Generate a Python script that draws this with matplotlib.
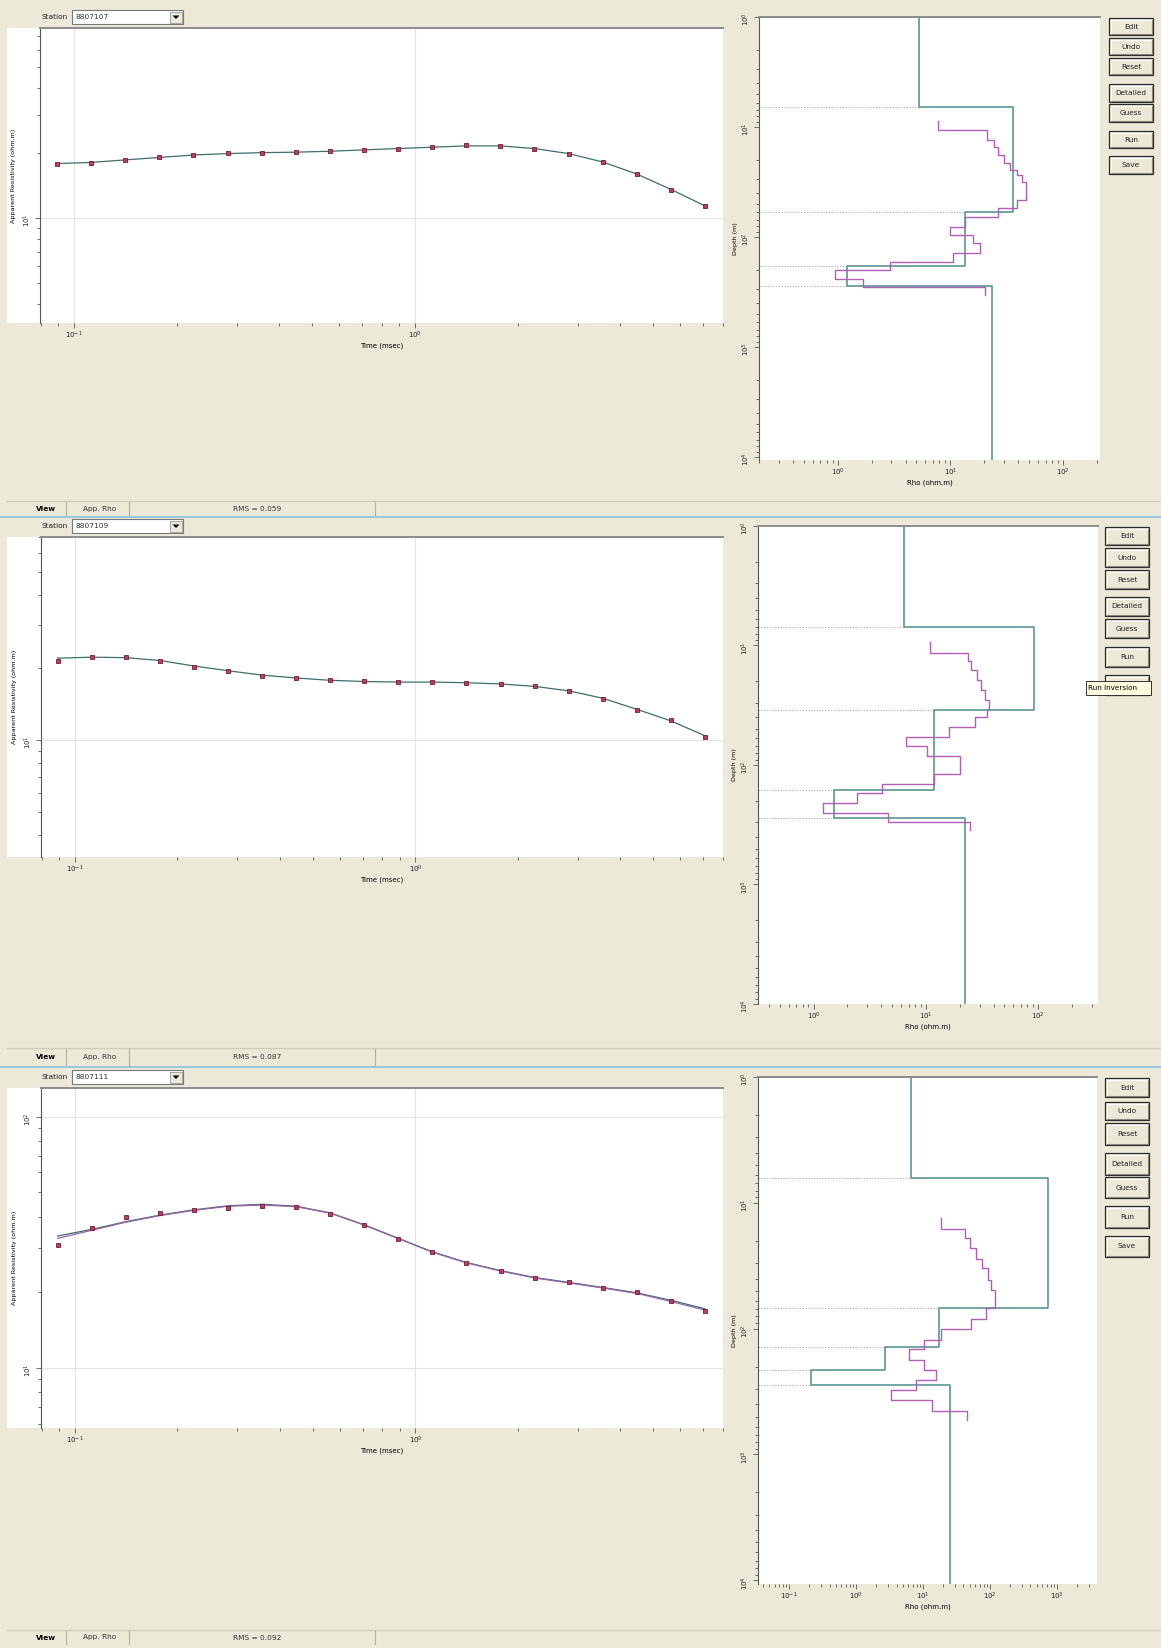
import numpy as np
import matplotlib
matplotlib.use("Agg")
import matplotlib.pyplot as plt
from matplotlib.patches import Rectangle, Polygon
from matplotlib.ticker import FixedLocator, FuncFormatter, NullFormatter

W, H = 1161, 1648
BEIGE = "#ece9d8"
TEAL = "#4d8c8c"
MAGENTA = "#b060b4"

# ---- data ----
time_ms = [0.089, 0.112, 0.141, 0.178, 0.224, 0.282, 0.355, 0.447, 0.562, 0.708,
           0.891, 1.12, 1.41, 1.78, 2.24, 2.82, 3.55, 4.47, 5.62, 7.08]

stations = ["8807107", "8807109", "8807111"]
rms_values = ["0.059", "0.087", "0.092"]

# apparent resistivity (ohm.m): observed points and model responses
rho_obs_1 = [17.8, 18.0, 18.6, 19.2, 19.6, 20.0, 20.0, 20.2, 20.4, 20.6,
             21.0, 21.4, 21.7, 21.5, 21.0, 19.9, 18.2, 16.0, 13.5, 11.4]
rho_fit_1 = [17.9, 18.1, 18.6, 19.1, 19.6, 19.9, 20.1, 20.2, 20.4, 20.7,
             21.0, 21.3, 21.6, 21.6, 21.0, 19.9, 18.2, 16.0, 13.6, 11.4]

rho_obs_2 = [21.3, 22.2, 22.1, 21.3, 20.2, 19.3, 18.5, 18.1, 17.7, 17.6,
             17.4, 17.4, 17.2, 17.1, 16.7, 16.0, 14.8, 13.3, 12.1, 10.3]
rho_fit_2 = [21.9, 22.1, 22.0, 21.4, 20.3, 19.4, 18.6, 18.1, 17.7, 17.5,
             17.4, 17.4, 17.3, 17.1, 16.7, 16.0, 14.9, 13.4, 12.0, 10.4]

rho_obs_3 = [30.9, 36.0, 39.8, 41.3, 42.4, 43.3, 43.9, 43.7, 41.1, 36.9,
             32.7, 28.9, 26.2, 24.3, 22.7, 21.9, 20.8, 20.0, 18.5, 16.9]
rho_fit_3 = [33.5, 35.6, 38.2, 40.6, 42.6, 44.2, 44.8, 44.0, 41.4, 37.1,
             32.8, 29.0, 26.3, 24.4, 22.9, 21.9, 20.9, 19.9, 18.6, 17.2]
rho_fit_3b = [32.8, 35.3, 38.0, 40.4, 42.4, 44.0, 44.5, 43.8, 41.3, 37.0,
              32.7, 28.9, 26.2, 24.3, 22.8, 21.8, 20.8, 19.8, 18.4, 17.0]

# layered model: resistivity of each layer and depth of layer bottoms (m)
layer_rho_1 = [5.25, 36, 13.5, 1.2, 23.4]
layer_bottom_1 = [6.6, 60, 184, 279]
layer_rho_2 = [6.35, 92, 11.7, 1.51, 22.4]
layer_bottom_2 = [7.05, 34.7, 162, 279]
layer_rho_3 = [6.5, 723, 17.1, 2.72, 0.21, 24.9]
layer_bottom_3 = [6.4, 69, 140, 214, 281]

# smooth (detailed) model: resistivity per step and step boundaries (m)
smooth_rho_1 = [7.8, 21, 24.4, 26.6, 29.9, 33.8, 39.3, 42.9, 46.9, 38.7,
                26.6, 13.5, 9.9, 16, 18.3, 10.6, 2.9, 0.94, 1.66, 20.3]
smooth_depth_1 = [8.8, 10.6, 13.1, 15.1, 18.0, 21.4, 24.6, 27.3, 31.4, 46.1, 54.8,
                  65.3, 80.5, 95.9, 114, 139, 168, 200, 243, 283, 337]
smooth_rho_2 = [10.8, 23.5, 25.2, 28.5, 30.9, 33.8, 36.2, 35.0, 27.5, 16.0,
                6.6, 10.2, 20.3, 11.9, 4.1, 2.41, 1.22, 4.6, 24.9]
smooth_depth_2 = [9.3, 11.5, 13.6, 16.0, 19.4, 23.6, 28.6, 34.2, 39.9, 48.4,
                  58.0, 69.3, 84.1, 119, 144, 173, 209, 251, 298, 350]
smooth_rho_3 = [18.3, 41.9, 49.8, 62.6, 76.2, 91.5, 103, 118, 88.3, 51.4,
                18.3, 10.3, 6.07, 10.3, 15.8, 7.91, 3.34, 13.7, 45.9]
smooth_depth_3 = [13.3, 16.0, 19.2, 23.0, 27.7, 33.2, 41.1, 49.4, 69.0, 84.5,
                  101, 122, 146, 178, 214, 257, 308, 370, 451, 534]

button_labels = ["Edit", "Undo", "Reset", "Detailed", "Guess", "Run", "Save"]

# ---- screen layout (pixels, origin top-left) ----
panels = [
    dict(obs=rho_obs_1, fits=[rho_fit_1], lrho=layer_rho_1, lbot=layer_bottom_1,
         srho=smooth_rho_1, sdep=smooth_depth_1,
         left=(40, 28, 723, 323), right=(759, 17, 1100, 460),
         t_ylim=(3.27, 75.9), r_xlim=(0.2, 213), r_ylim=(1.07e4, 1.0),
         btn_x=(1109, 1153),
         btn_y=[(18, 35), (38, 55), (58, 75), (84, 102), (104, 122), (131, 148), (156, 174)],
         combo_y=(10, 24), status_y=(501, 516), sep_y=517, tooltip=False),
    dict(obs=rho_obs_2, fits=[rho_fit_2], lrho=layer_rho_2, lbot=layer_bottom_2,
         srho=smooth_rho_2, sdep=smooth_depth_2,
         left=(41, 537, 723, 857), right=(758, 526, 1098, 1004),
         t_ylim=(3.25, 70.0), r_xlim=(0.32, 340), r_ylim=(1.0e4, 1.0),
         btn_x=(1105, 1149),
         btn_y=[(527, 545), (548, 567), (570, 589), (597, 616), (619, 638), (647, 667), (675, 695)],
         combo_y=(519, 533), status_y=(1048, 1066), sep_y=1067, tooltip=True),
    dict(obs=rho_obs_3, fits=[rho_fit_3, rho_fit_3b], lrho=layer_rho_3, lbot=layer_bottom_3,
         srho=smooth_rho_3, sdep=smooth_depth_3,
         left=(41, 1088, 723, 1428), right=(758, 1077, 1097, 1584),
         t_ylim=(5.77, 130.0), r_xlim=(0.034, 3960), r_ylim=(1.07e4, 1.0),
         btn_x=(1105, 1149),
         btn_y=[(1078, 1097), (1102, 1120), (1123, 1145), (1153, 1175), (1177, 1198), (1206, 1228), (1236, 1257)],
         combo_y=(1070, 1084), status_y=(1630, 1645), sep_y=None, tooltip=False),
]

plt.rcParams["font.family"] = ["DejaVu Sans"]

fig = plt.figure(figsize=(W / 100, H / 100), dpi=100, facecolor=BEIGE)

bg = fig.add_axes([0, 0, 1, 1], zorder=-5)
bg.set_xlim(0, W)
bg.set_ylim(H, 0)
bg.axis("off")

top = fig.add_axes([0, 0, 1, 1], zorder=10)
top.set_xlim(0, W)
top.set_ylim(H, 0)
top.axis("off")
top.patch.set_alpha(0)


def px_axes(box):
    x0, y0, x1, y1 = box
    return fig.add_axes([x0 / W, 1 - y1 / H, (x1 - x0) / W, (y1 - y0) / H])


decades = [10.0 ** e for e in range(-3, 6)]
minors = [m * 10.0 ** e for e in range(-3, 5) for m in range(2, 10)]
dec_fmt = FuncFormatter(lambda v, p: r"$10^{%d}$" % round(np.log10(v)))


def style_log(ax):
    ax.set_xscale("log")
    ax.set_yscale("log")
    ax.spines["bottom"].set_visible(False)
    ax.spines["right"].set_visible(False)
    ax.spines["left"].set_color("#555555")
    ax.spines["top"].set_color("#8c8c8c")
    ax.spines["top"].set_linewidth(1.4)
    for axis in (ax.xaxis, ax.yaxis):
        axis.set_major_locator(FixedLocator(decades))
        axis.set_minor_locator(FixedLocator(minors))
        axis.set_major_formatter(dec_fmt)
        axis.set_minor_formatter(NullFormatter())
    ax.tick_params(which="both", direction="out", color="#555555", width=0.6,
                   labelsize=5, labelcolor="#222222", pad=1.5)
    ax.tick_params(which="major", length=3.5)
    ax.tick_params(which="minor", length=2)
    ax.tick_params(axis="y", labelrotation=90)


def step_path(rhos, depths):
    xs, ys = [], []
    for i, r in enumerate(rhos):
        xs += [r, r]
        ys += [depths[i], depths[i + 1]]
    return xs, ys


def button(x0, x1, y0, y1, label, show_text=True):
    bg.add_patch(Rectangle((x0, y0), x1 - x0, y1 - y0, fc=BEIGE, ec="#2a2a2a", lw=0.9))
    bg.plot([x0 + 1.5, x0 + 1.5, x1 - 1.5], [y1 - 1.5, y0 + 1.5, y0 + 1.5], color="white", lw=0.8)
    bg.plot([x0 + 1.5, x1 - 1.5, x1 - 1.5], [y1 - 1.5, y1 - 1.5, y0 + 1.5], color="#8a877a", lw=0.8)
    if show_text:
        bg.text((x0 + x1) / 2, (y0 + y1) / 2, label, ha="center", va="center",
                fontsize=5.3, color="#222222")


def combo(y0, y1, station):
    cy = (y0 + y1) / 2
    bg.text(42, cy, "Station", ha="left", va="center", fontsize=5.3, color="#222222")
    bg.add_patch(Rectangle((72, y0), 111, y1 - y0, fc="white", ec="#7a7a7a", lw=0.8))
    bg.text(75, cy, station, ha="left", va="center", fontsize=5.3, color="#333333")
    bg.add_patch(Rectangle((170, y0 + 1.5), 12, y1 - y0 - 3, fc=BEIGE, ec="#9a9a9a", lw=0.6))
    bg.add_patch(Polygon([[172.5, cy - 1.5], [179.5, cy - 1.5], [176, cy + 2]],
                         closed=True, fc="black", ec="none"))


def status_bar(y0, y1, rms):
    cy = (y0 + y1) / 2
    bg.plot([7, W], [y0, y0], color="#cfccbc", lw=1)
    for x in [66, 129, 375]:
        bg.plot([x, x], [y0 + 1, y1 - 1], color="#b4b1a1", lw=0.8)
    bg.text(46, cy, "View", ha="center", va="center", fontsize=5.3, fontweight="bold")
    bg.text(100, cy, "App. Rho", ha="center", va="center", fontsize=5.3, color="#333333")
    bg.text(257, cy, "RMS = " + rms, ha="center", va="center", fontsize=5.3, color="#333333")


for i, p in enumerate(panels):
    lx0, ly0, lx1, ly1 = p["left"]
    # white plotting area (includes strip holding the y label)
    bg.add_patch(Rectangle((7, ly0), lx1 - 7, ly1 - ly0, fc="white", ec="none"))

    # --- apparent resistivity vs time ---
    ax = px_axes(p["left"])
    style_log(ax)
    ax.grid(True, which="major", color="#e3e3e3", lw=0.8)
    ax.set_axisbelow(True)
    ax.set_xlim(0.0795, 8.0)
    ax.set_ylim(*p["t_ylim"])
    fit_colors = ["#3e6e6e", "#9a62a8"]
    for fit, c in zip(p["fits"], fit_colors):
        ax.plot(time_ms, fit, color=c, lw=0.9)
    ax.plot(time_ms, p["obs"], ls="none", marker="s", ms=3.0,
            mfc="#c43a5c", mec="#6e1e34", mew=0.6)
    ax.set_xlabel("Time (msec)", fontsize=5, labelpad=1)
    ax.set_ylabel("Apparent Resistivity (ohm.m)", fontsize=4.6, labelpad=4)

    # --- depth model ---
    ax2 = px_axes(p["right"])
    style_log(ax2)
    ax2.set_xlim(*p["r_xlim"])
    ax2.set_ylim(*p["r_ylim"])
    lrho, lbot = p["lrho"], p["lbot"]
    for k, b in enumerate(lbot):
        ax2.plot([p["r_xlim"][0], min(lrho[k], lrho[k + 1])], [b, b],
                 ls=(0, (1, 1.5)), color="#aaaaaa", lw=0.8)
    xs, ys = step_path(lrho, [p["r_ylim"][1]] + lbot + [p["r_ylim"][0]])
    ax2.plot(xs, ys, color=TEAL, lw=1.1)
    xs, ys = step_path(p["srho"], p["sdep"])
    ax2.plot(xs, ys, color=MAGENTA, lw=1.0)
    ax2.set_xlabel("Rho (ohm.m)", fontsize=5, labelpad=1)
    ax2.set_ylabel("Depth (m)", fontsize=4.6, labelpad=2)

    # --- window widgets ---
    combo(*p["combo_y"], stations[i])
    bx0, bx1 = p["btn_x"]
    for lab, (y0, y1) in zip(button_labels, p["btn_y"]):
        button(bx0, bx1, y0, y1, lab, show_text=not (p["tooltip"] and lab == "Save"))
    if p["tooltip"]:
        y0 = p["btn_y"][-1][0] + 6
        top.add_patch(Rectangle((1086, y0), 65, 14, fc="#ffffe1", ec="#333333", lw=0.7))
        top.text(1088.5, y0 + 7, "Run Inversion", ha="left", va="center", fontsize=5.2)
    status_bar(*p["status_y"], rms_values[i])
    if p["sep_y"] is not None:
        bg.plot([0, W], [p["sep_y"], p["sep_y"]], color="#8cc0de", lw=1.2)

fig.savefig("out.png", dpi=100, facecolor=BEIGE)
